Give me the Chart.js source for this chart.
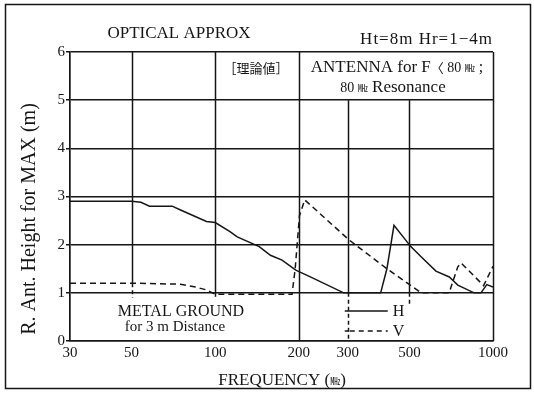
<!DOCTYPE html>
<html>
<head>
<meta charset="utf-8">
<script src="https://cdn.jsdelivr.net/npm/chart.js@4"></script>
<style>
  html, body { margin: 0; padding: 0; background: #fff; }
  #wrap { width: 534px; height: 393px; position: relative; }
</style>
</head>
<body>
<div id="wrap"><canvas id="heightChart"></canvas></div>
<script>
// frequency ticks (MHz) and height ticks (m)
const freqTicks = [30, 50, 100, 200, 300, 500, 1000];
const heightTicks = [0, 1, 2, 3, 4, 5, 6];

// H polarisation (solid)
const freqH = [30, 50, 54, 58, 70, 75, 93, 100, 113, 120, 144, 158, 174, 195, 220, 290, 394, 415, 440, 506, 551, 623, 696, 747, 855, 905, 950, 1000];
const heightH = [2.9, 2.9, 2.88, 2.8, 2.8, 2.72, 2.48, 2.46, 2.27, 2.16, 1.96, 1.78, 1.68, 1.47, 1.33, 1.0, 1.0, 1.5, 2.4, 1.96, 1.75, 1.45, 1.33, 1.16, 1.0, 1.0, 1.17, 1.12];

// V polarisation (dashed)
const freqV = [30, 50, 75, 85, 93, 100, 189, 194, 201, 210, 303, 415, 551, 695, 747, 768, 925, 1000];
const heightV = [1.2, 1.2, 1.18, 1.12, 1.06, 0.97, 0.97, 1.5, 2.6, 2.93, 2.1, 1.5, 1.0, 1.0, 1.54, 1.62, 1.15, 1.55];

const INK = '#151515';
const SERIF = "'Liberation Serif', 'Noto Sans CJK JP', serif";
const CJK = "'Noto Sans CJK JP', 'Liberation Serif', sans-serif";

function toPoints(xs, ys) {
  return xs.map((x, i) => ({ x: x, y: ys[i] }));
}

// draws a row of text runs with mixed fonts, centred on cx
function drawRuns(ctx, runs, cx, cy) {
  let total = 0;
  runs.forEach(r => { ctx.font = r.font; r.w = ctx.measureText(r.t).width; total += r.w; });
  let x = cx - total / 2;
  ctx.textAlign = 'left';
  ctx.textBaseline = 'middle';
  runs.forEach(r => { ctx.font = r.font; ctx.fillText(r.t, x, cy + (r.dy || 0)); x += r.w; });
}

const decorPlugin = {
  id: 'decor',
  beforeDatasetsDraw(chart) {
    const ctx = chart.ctx;
    const xs = chart.scales.x, ys = chart.scales.y;
    const X = v => xs.getPixelForValue(v), Y = v => ys.getPixelForValue(v);
    // vertical grid lines of different lengths
    const segs = [
      [50, 6, 1.2, false], [50, 1.2, 0.9, true],
      [100, 6, 1.0, false], [100, 1.0, 0.9, true],
      [200, 6, 0, false],
      [300, 5, 1, false], [300, 1, 0, true],
      [500, 5, 1, false], [500, 1, 0.75, true],
      [1000, 6, 0, false]
    ];
    ctx.save();
    ctx.strokeStyle = INK;
    ctx.lineWidth = 1.5;
    segs.forEach(s => {
      ctx.setLineDash(s[3] ? [4, 3] : []);
      ctx.beginPath();
      ctx.moveTo(Math.round(X(s[0])) + 0.5, Y(s[1]));
      ctx.lineTo(Math.round(X(s[0])) + 0.5, Y(s[2]));
      ctx.stroke();
    });
    ctx.restore();
  },
  afterDraw(chart) {
    const ctx = chart.ctx;
    const xs = chart.scales.x;
    const x300 = xs.getPixelForValue(300);
    ctx.save();
    ctx.fillStyle = INK;
    ctx.strokeStyle = INK;

    // outer frame
    ctx.lineWidth = 1.5;
    ctx.strokeRect(5.5, 4.5, 525, 384);

    // titles
    drawRuns(ctx, [{ t: 'OPTICAL APPROX', font: '17px ' + SERIF }], 179, 34);
    ctx.font = '17px ' + SERIF;
    ctx.letterSpacing = '1px';
    ctx.textAlign = 'right';
    ctx.textBaseline = 'middle';
    ctx.fillText('Ht=8m Hr=1\u22124m', 493, 40);
    ctx.letterSpacing = '0px';

    drawRuns(ctx, [{ t: '［理論値］', font: '13px ' + CJK }], 256, 68);
    drawRuns(ctx, [
      { t: 'ANTENNA for F', font: '17px ' + SERIF },
      { t: '〈', font: '13px ' + CJK },
      { t: ' 80 ', font: '14px ' + SERIF },
      { t: '㎒', font: '10px ' + CJK },
      { t: ' ;', font: '16px ' + SERIF }
    ], 397, 68);
    drawRuns(ctx, [
      { t: '80 ', font: '14px ' + SERIF },
      { t: '㎒', font: '10px ' + CJK },
      { t: ' Resonance', font: '17px ' + SERIF }
    ], 393, 88);

    drawRuns(ctx, [{ t: 'METAL GROUND', font: '16px ' + SERIF }], 181, 312);
    drawRuns(ctx, [{ t: 'for 3 m Distance', font: '15px ' + SERIF }], 175, 327);

    // legend
    const ly1 = 311, ly2 = 331;
    ctx.lineWidth = 1.5;
    ctx.beginPath();
    ctx.moveTo(x300 - 3, ly1); ctx.lineTo(x300 + 40, ly1);
    ctx.stroke();
    ctx.setLineDash([5, 4]);
    ctx.beginPath();
    ctx.moveTo(x300 + 2, ly2); ctx.lineTo(x300 + 40, ly2);
    ctx.stroke();
    ctx.setLineDash([]);
    ctx.beginPath();
    ctx.moveTo(x300 - 3, ly2); ctx.lineTo(x300 + 1, ly2);
    ctx.stroke();
    ctx.font = '16px ' + SERIF;
    ctx.textAlign = 'left';
    ctx.fillText('H', x300 + 45, ly1 + 1);
    ctx.fillText('V', x300 + 45, ly2 + 1);

    // axis titles
    drawRuns(ctx, [
      { t: 'FREQUENCY (', font: '17px ' + SERIF },
      { t: '㎒', font: '10px ' + CJK },
      { t: ')', font: '17px ' + SERIF }
    ], 282, 381);

    ctx.translate(30, 219);
    ctx.rotate(-Math.PI / 2);
    drawRuns(ctx, [{ t: 'R. Ant. Height for MAX (m)', font: '20px ' + SERIF }], 0, 0);
    ctx.restore();
  }
};

new Chart(document.getElementById('heightChart'), {
  type: 'line',
  data: {
    datasets: [
      {
        label: 'H',
        data: toPoints(freqH, heightH),
        borderColor: INK,
        borderWidth: 1.5,
        pointRadius: 0,
        tension: 0,
        fill: false
      },
      {
        label: 'V',
        data: toPoints(freqV, heightV),
        borderColor: INK,
        borderWidth: 1.5,
        borderDash: [6, 4],
        pointRadius: 0,
        tension: 0,
        fill: false
      }
    ]
  },
  options: {
    responsive: true,
    maintainAspectRatio: false,
    animation: false,
    layout: { padding: { left: 0, right: 41, top: 52, bottom: 0 } },
    plugins: {
      legend: { display: false },
      tooltip: { enabled: false }
    },
    scales: {
      x: {
        type: 'logarithmic',
        min: 30,
        max: 1000,
        afterBuildTicks: scale => { scale.ticks = freqTicks.map(v => ({ value: v })); },
        afterFit: scale => { scale.height = 52; },
        ticks: {
          autoSkip: false,
          maxRotation: 0,
          padding: 3,
          color: INK,
          font: { family: SERIF, size: 15 },
          callback: v => String(v)
        },
        grid: { display: false, drawTicks: false },
        border: { display: true, color: INK, width: 1.5 }
      },
      y: {
        min: 0,
        max: 6,
        afterBuildTicks: scale => { scale.ticks = heightTicks.map(v => ({ value: v })); },
        afterFit: scale => { scale.width = 70; },
        ticks: {
          padding: 1,
          color: INK,
          font: { family: SERIF, size: 15 }
        },
        grid: { color: INK, lineWidth: 1.5, tickLength: 4 },
        border: { display: true, color: INK, width: 1.7 }
      }
    }
  },
  plugins: [decorPlugin]
});
</script>
</body>
</html>
